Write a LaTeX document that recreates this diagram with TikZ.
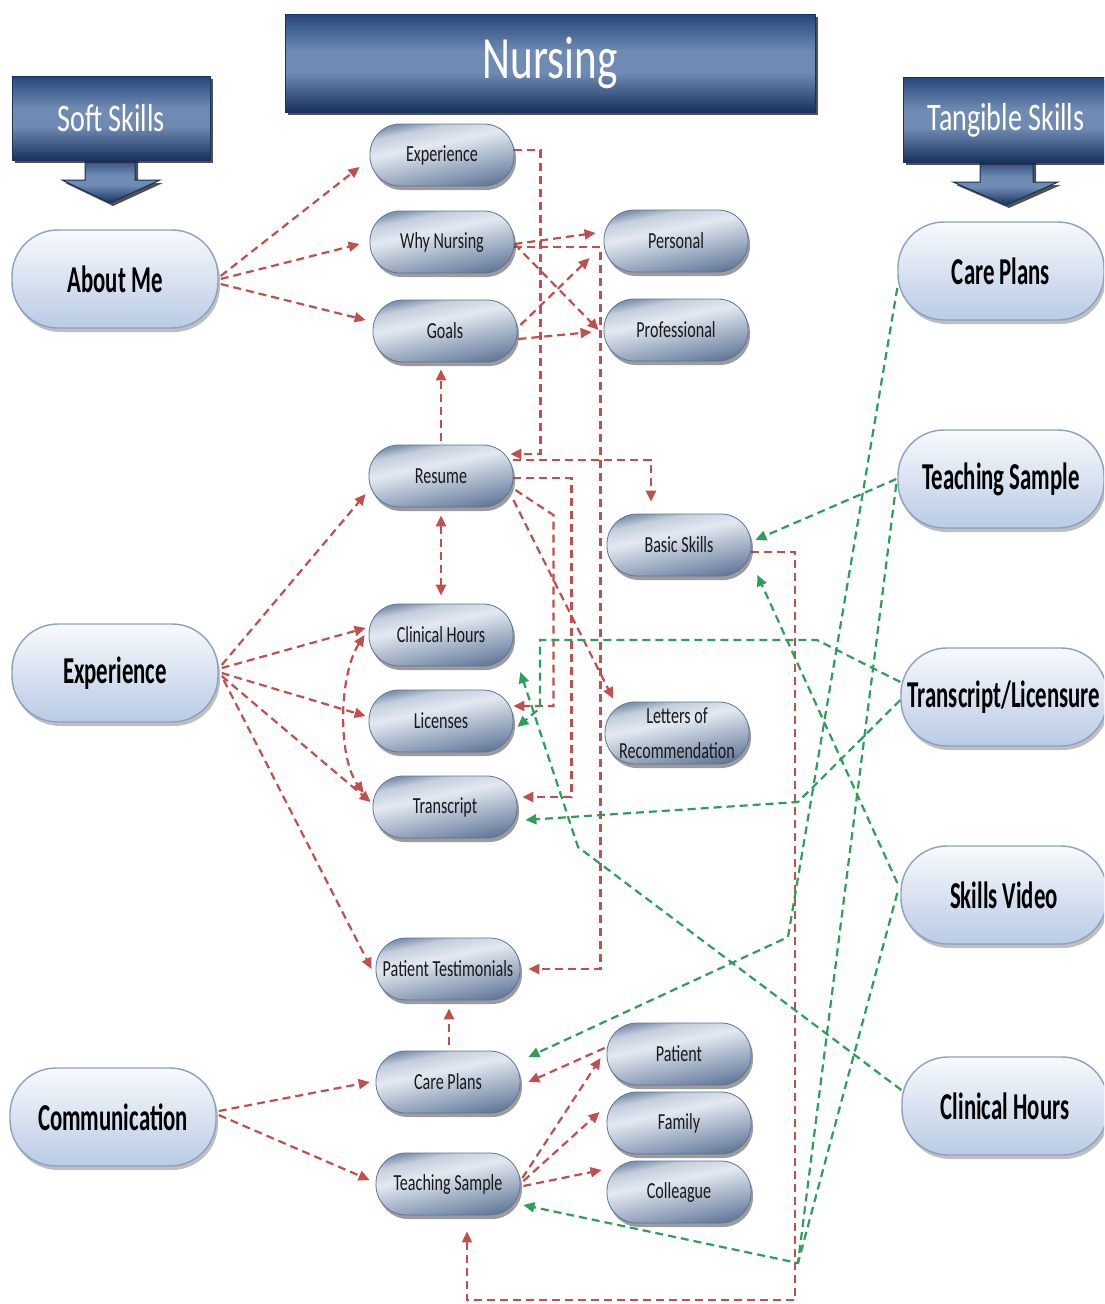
\documentclass[tikz,border=0pt]{standalone}
\usepackage{fontspec}
\setmainfont{Carlito}
\newfontfamily\headfont[FakeStretch=0.72]{Carlito}
\newfontfamily\bigfont[FakeStretch=0.6]{Carlito}
\newfontfamily\smallfont[FakeStretch=0.7]{Carlito}
\usetikzlibrary{arrows.meta,shadows,calc,backgrounds}

\definecolor{linkred}{HTML}{C0504D}
\definecolor{linkgreen}{HTML}{2E9E5B}
\definecolor{navyA}{HTML}{24467A}
\definecolor{navyB}{HTML}{6F8BB3}
\definecolor{navyC}{HTML}{17325C}
\definecolor{steelA}{HTML}{8295B0}
\definecolor{steelB}{HTML}{E3E9F1}
\definecolor{steelB2}{HTML}{C4CEDC}
\definecolor{steelC}{HTML}{8496B1}
\definecolor{steelD}{HTML}{65799A}
\definecolor{steelEdge}{HTML}{5F7397}
\definecolor{paleA}{HTML}{F8FAFD}
\definecolor{paleB}{HTML}{B9CBE4}
\definecolor{paleEdge}{HTML}{8CA1C0}

% vertical colour ramps (25bp = lower edge, 75bp = upper edge)
\pgfdeclareverticalshading{bannershade}{100bp}{color(0bp)=(navyC); color(25bp)=(navyC);
  color(45bp)=(navyB); color(56bp)=(navyB); color(75bp)=(navyA); color(100bp)=(navyA)}
\pgfdeclareverticalshading{topicshade}{100bp}{color(0bp)=(steelD); color(25bp)=(steelD);
  color(33bp)=(steelC); color(58bp)=(steelB); color(69bp)=(steelB2); color(75bp)=(steelA);
  color(100bp)=(steelA)}

\tikzset{
  topic/.style={rectangle, rounded corners=30pt, minimum width=144pt, minimum height=62pt,
    inner sep=2pt, shading=topicshade, shading angle=12,
    draw=steelEdge, line width=0.8pt,
    drop shadow={shadow xshift=2pt, shadow yshift=-4pt, fill=black!70, opacity=0.55},
    font=\smallfont\fontsize{23}{35}\selectfont, text=black!90, align=center},
  skill/.style={rectangle, rounded corners=46pt, minimum width=206pt, minimum height=98pt,
    inner sep=0pt, top color=paleA, bottom color=paleB, draw=paleEdge, line width=1.4pt,
    drop shadow={shadow xshift=2pt, shadow yshift=-4pt, fill=black!55, opacity=0.45},
    font=\bigfont\bfseries\fontsize{38}{40}\selectfont, text=black},
  banner/.style={shading=bannershade, draw=navyC, line width=1pt,
    drop shadow={shadow xshift=3pt, shadow yshift=-3pt, fill=black!85, opacity=0.8}},
  bannertext/.style={text=white, font=\headfont\fontsize{39}{40}\selectfont},
  rlink/.style={draw=linkred, line width=2.2pt, dash pattern=on 8pt off 5pt},
  glink/.style={draw=linkgreen, line width=2.2pt, dash pattern=on 8pt off 5pt},
  tipR/.style={-{Triangle[length=11pt,width=10pt,fill=linkred]}},
  tipG/.style={-{Triangle[length=11pt,width=10pt,fill=linkgreen]}},
  rarrow/.style={rlink, tipR},
  garrow/.style={glink, tipG},
  rboth/.style={rlink, {Triangle[length=11pt,width=10pt,fill=linkred]}-{Triangle[length=11pt,width=10pt,fill=linkred]}}
}

\begin{document}
\begin{tikzpicture}[x=1pt,y=-1pt]
\useasboundingbox (0,0) rectangle (1104,1304);
\clip (0,0) rectangle (1104,1304);

% ---------- banners ----------
\path[banner] (285,14) rectangle (815,112);
\node[bannertext, font=\headfont\fontsize{60}{62}\selectfont] (nursing) at (550,63) {Nursing};

\path[banner] (85,158) -- (135,158) -- (135,180) -- (160,180) -- (110,203) -- (62,180) -- (85,180) -- cycle;
\path[banner] (12,76) rectangle (210,160);
\node[bannertext] (soft) at (111,118) {Soft Skills};

\path[banner] (980,160) -- (1033,160) -- (1033,182) -- (1058,182) -- (1006,205) -- (953,182) -- (980,182) -- cycle;
\path[banner] (903,77) rectangle (1112,162);
\node[bannertext] (tang) at (1006,120) {Tangible Skills};

% ---------- soft skills ----------
\node[skill] (about) at (115,279) {About Me};
\node[skill] (lexp)  at (115,673) {Experience};
\node[skill] (comm)  at (113,1117) {Communication};

% ---------- tangible skills ----------
\node[skill] (rcare)  at (1001,271)  {Care Plans};
\node[skill] (rteach) at (1001,479)  {Teaching Sample};
\node[skill] (rtl)    at (1004,697)  {Transcript/Licensure};
\node[skill] (rvideo) at (1004,895)  {Skills Video};
\node[skill] (rclin)  at (1005,1106) {Clinical Hours};

% ---------- portfolio items ----------
\node[topic] (mexp)   at (442,155)  {Experience};
\node[topic] (why)    at (442,242)  {Why Nursing};
\node[topic] (goals)  at (445,331)  {Goals};
\node[topic] (resume) at (441,476)  {Resume};
\node[topic] (mclin)  at (441,635)  {Clinical Hours};
\node[topic] (lic)    at (441,721)  {Licenses};
\node[topic] (trans)  at (445,807)  {Transcript};
\node[topic] (testi)  at (448,969)  {Patient Testimonials};
\node[topic] (mcare)  at (448,1082) {Care Plans};
\node[topic] (mteach) at (448,1184) {Teaching Sample};

\node[topic] (pers)      at (676,241)  {Personal};
\node[topic] (prof)      at (676,330)  {Professional};
\node[topic] (basic)     at (679,545)  {Basic Skills};
\node[topic, inner sep=0pt] (letters) at (677,733) {Letters of\\Recommendation};
\node[topic] (patient)   at (679,1054) {Patient};
\node[topic] (family)    at (679,1123) {Family};
\node[topic] (colleague) at (679,1192) {Colleague};

% bend points of the routed connectors
\coordinate (cpBend) at (788,937);
\coordinate (tsJoin) at (798,1263);
\coordinate (tlTop)  at (817,640);
\coordinate (tlLeft) at (540,640);
\coordinate (tlDown) at (540,708);
\coordinate (tlBend) at (798,802);
\coordinate (chBend) at (578,847);

\begin{pgfonlayer}{background}
\fill[white] (0,0) rectangle (1104,1304);

% ---------- red links ----------
\draw[rarrow] ($(about.east)+(2,-3)$) -- ($(mexp.west)+(-10,12)$);
\draw[rarrow] ($(about.east)+(2,0)$)  -- ($(why.west)+(-10,2)$);
\draw[rarrow] ($(about.east)+(2,5)$)  -- ($(goals.west)+(-7,-11)$);

\draw[rarrow] ($(why.east)+(0,2)$) -- ($(pers.west)+(-8,-8)$);
\draw[rarrow] ($(why.east)+(0,2)$) -- ($(prof.west)+(-5,0)$);
\draw[rarrow] ($(goals.east)+(3,-6)$) -- ($(pers.west)+(-14,17)$);
\draw[rarrow] ($(goals.east)+(1,8)$) -- ($(prof.west)+(-12,2)$);

\draw[rarrow] ($(mexp.east)+(0,-5)$) -- ++(26,0) |- ($(resume.east)+(-3,-22)$);
\draw[rarrow] ($(why.east)+(0,5)$) -- ++(86,0) |- ($(testi.east)+(8,0)$);

\draw[rarrow] ($(resume.north)+(0,-4)$) -- ($(resume.north |- goals.south)+(0,7)$);
\draw[rboth] ($(resume.south)+(0,8)$) -- ($(mclin.north)+(0,-8)$);
\draw[rarrow] ($(resume.east)+(0,-16)$) -| ($(basic.north)+(-28,-12)$);
\draw[rarrow] ($(resume.east)+(0,2)$) -- ++(58,0) |- ($(trans.east)+(5,-10)$);
\draw[rarrow] ($(resume.east)+(2,14)$) -- ++(38,25) |- ($(lic.east)+(0,-15)$);
\draw[rarrow] ($(resume.east)+(0,24)$) -- ($(letters.north)+(-64,-3)$);

\draw[rarrow] ($(lexp.east)+(3,-8)$) -- ($(resume.west)+(-3,18)$);
\draw[rarrow] ($(lexp.east)+(3,-5)$) -- ($(mclin.west)+(-3,-7)$);
\draw[rarrow] ($(lexp.east)+(3,0)$)  -- ($(lic.west)+(-3,-5)$);
\draw[rarrow] ($(lexp.east)+(3,3)$)  -- ($(trans.west)+(-2,-5)$);
\draw[rarrow] ($(lexp.east)+(5,7)$)  -- ($(testi.west)+(-4,0)$);
\draw[rboth] ($(mclin.west)+(-4,0)$) .. controls ($(mclin.west)+(-30,40)$) and ($(trans.west)+(-35,-50)$) .. ($(trans.west)+(-9,-14)$);

\draw[rarrow] ($(comm.east)+(2,-6)$) -- ($(mcare.west)+(-6,0)$);
\draw[rarrow] ($(comm.east)+(2,-2)$) -- ($(mteach.west)+(-6,-4)$);
\draw[rarrow] ($(mcare.north)+(1,-6)$) -- ($(testi.south)+(1,8)$);
\draw[rarrow] ($(patient.west)+(-2,-6)$) -- ($(mcare.east)+(8,0)$);
\draw[rarrow] ($(mteach.east)+(2,-6)$) -- ($(patient.west)+(-6,4)$);
\draw[rarrow] ($(mteach.east)+(3,-3)$) -- ($(family.west)+(-7,-11)$);
\draw[rarrow] ($(mteach.east)+(3,2)$)  -- ($(colleague.west)+(-5,-22)$);
\draw[rarrow, line width=1.9pt] ($(basic.east)+(0,7)$) -- ++(44,0) -- ++(0,748) -| ($(mteach.south)+(19,16)$);

% ---------- green links ----------
\draw[garrow] ($(rcare.west)+(0,17)$) -- (cpBend) -- ($(mcare.east)+(8,-25)$);
\draw[garrow] ($(rteach.west)+(-1,0)$) -- ($(basic.east)+(4,-5)$);
\draw[garrow] ($(rteach.west)+(-1,5)$) -- (tsJoin) -- ($(mteach.east)+(3,21)$);
\draw[glink]  ($(rvideo.west)+(-3,-2)$) -- (tsJoin);
\draw[garrow] ($(rvideo.west)+(-3,-12)$) -- ($(basic.east)+(6,30)$);
\draw[garrow] ($(rtl.west)+(0,-15)$) -- (tlTop) -- (tlLeft) -- (tlDown) -- ($(lic.east)+(4,6)$);
\draw[garrow] ($(rtl.west)+(0,3)$) -- (tlBend) -- ($(trans.east)+(8,13)$);
\draw[garrow] ($(rclin.west)+(0,-16)$) -- (chBend) -- ($(mclin.east)+(7,37)$);
\end{pgfonlayer}
\end{tikzpicture}
\end{document}
